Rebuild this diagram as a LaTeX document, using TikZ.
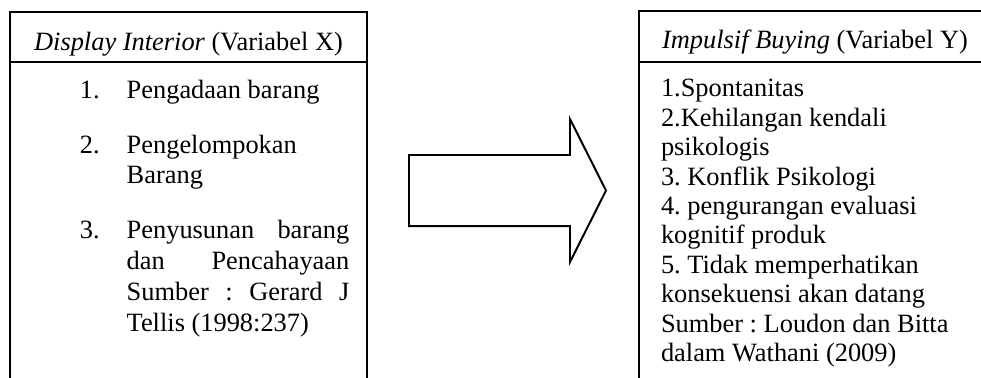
\documentclass[tikz,border=0pt]{standalone}
\usepackage{fontspec}
\setmainfont{Liberation Serif}
\usetikzlibrary{fit}
\tikzset{
  boxline/.style={draw=black, line width=0.9pt, inner sep=0pt, outer sep=0pt},
  txt/.style={inner sep=0pt, outer sep=0pt, font=\fontsize{12}{14}\selectfont, anchor=base west},
  hdr/.style={inner sep=0pt, outer sep=0pt, font=\fontsize{12}{14}\selectfont, anchor=base},
  blockarrow/.style={draw=black, line width=0.9pt, line join=miter}
}
\frenchspacing
\begin{document}
\begin{tikzpicture}[x=0.4545pt,y=-0.4545pt]
\useasboundingbox (0,0) rectangle (981,377);
\clip (0,0) rectangle (981,377);
% left box
\node[boxline, fit={(10,12) (367,62)}] (lhead) {};
\node[boxline, fit={(10,62) (367,400)}] (lbody) {};
\node[hdr] (lht) at (188.5,50) {\textit{Display Interior} (Variabel X)};
\node[txt] (n1) at (80,98.3) {1.};
\node[txt] (i1) at (126.7,98.3) {Pengadaan barang};
\node[txt] (n2) at (80,153.3) {2.};
\node[txt] (i2a) at (126.7,153.3) {Pengelompokan};
\node[txt] (i2b) at (126.7,183.3) {Barang};
\node[txt] (n3) at (80,238.3) {3.};
\node[txt] (i3a) at (126.7,238.3) {\hbox to 101.2pt{Penyusunan\hfill barang}};
\node[txt] (i3b) at (126.7,269.5) {\hbox to 101.2pt{dan\hfill Pencahayaan}};
\node[txt] (i3c) at (126.7,300.7) {\hbox to 101.2pt{Sumber\hfill:\hfill Gerard\hfill J}};
\node[txt] (i3d) at (126.7,331.7) {Tellis (1998:237)};
% arrow
\draw[blockarrow] (409,155) -- (570,155) -- (570,119) -- (606,190.5) -- (570,262) -- (570,226) -- (409,226) -- cycle;
% right box
\node[boxline, fit={(639,11) (995,62)}] (rhead) {};
\node[boxline, fit={(639,62) (995,400)}] (rbody) {};
\node[hdr] (rht) at (815,48) {\textit{Impulsif Buying} (Variabel Y)};
\foreach \t [count=\k from 0] in {1.Spontanitas,2.Kehilangan kendali,psikologis,3. Konflik Psikologi,4. pengurangan evaluasi,kognitif produk,5. Tidak memperhatikan,konsekuensi akan datang,Sumber : Loudon dan Bitta,dalam Wathani (2009)}
  \node[txt] (r\k) at (661,{96.7+29.45*\k}) {\t};
\end{tikzpicture}
\end{document}
